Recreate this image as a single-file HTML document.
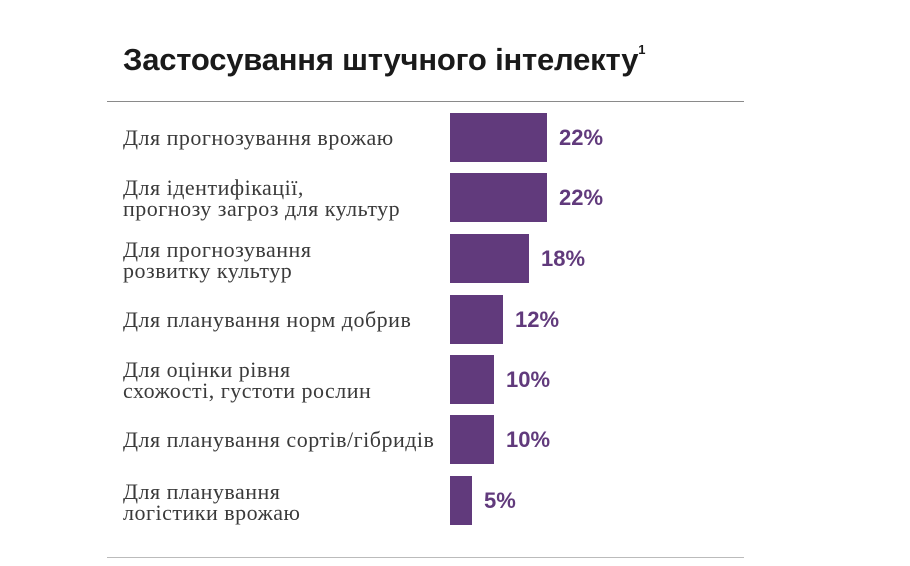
<!DOCTYPE html>
<html><head><meta charset="utf-8"><style>
body{margin:0;width:910px;height:566px;background:#fff;position:relative;overflow:hidden;font-family:"Liberation Sans",sans-serif}
.t{position:absolute;left:123px;top:42px;font-size:31px;font-weight:bold;color:#1a1a1a;letter-spacing:-0.2px}
.t sup{font-size:13px;vertical-align:top;position:relative;top:0px}
.hl{position:absolute;left:107px;width:637px;height:1px;background:#8a8a8a}
.b{position:absolute;left:450px;height:49px;background:#613a7c}
.v{position:absolute;font-size:22px;font-weight:bold;color:#613a7c}
.l{position:absolute;left:123px;font-family:"Liberation Serif",serif;font-size:22px;color:#3a3a3a;line-height:21px;letter-spacing:0.5px}
</style></head><body>
<div class="t">Застосування штучного інтелекту<sup>1</sup></div>
<div class="hl" style="top:101px"></div>
<div class="hl" style="top:557px;background:#bbb"></div>

<div class="b" style="top:113px;width:97px"></div><div class="v" style="left:559px;top:125px">22%</div>
<div class="l" style="top:127px">Для прогнозування врожаю</div>

<div class="b" style="top:173px;width:97px"></div><div class="v" style="left:559px;top:185px">22%</div>
<div class="l" style="top:177px">Для ідентифікації,<br>прогнозу загроз для культур</div>

<div class="b" style="top:234px;width:79px"></div><div class="v" style="left:541px;top:246px">18%</div>
<div class="l" style="top:239px">Для прогнозування<br>розвитку культур</div>

<div class="b" style="top:295px;width:53px"></div><div class="v" style="left:515px;top:307px">12%</div>
<div class="l" style="top:309px">Для планування норм добрив</div>

<div class="b" style="top:355px;width:44px"></div><div class="v" style="left:506px;top:367px">10%</div>
<div class="l" style="top:359px">Для оцінки рівня<br>схожості, густоти рослин</div>

<div class="b" style="top:415px;width:44px"></div><div class="v" style="left:506px;top:427px">10%</div>
<div class="l" style="top:429px">Для планування сортів/гібридів</div>

<div class="b" style="top:476px;width:22px"></div><div class="v" style="left:484px;top:488px">5%</div>
<div class="l" style="top:481px">Для планування<br>логістики врожаю</div>
</body></html>
